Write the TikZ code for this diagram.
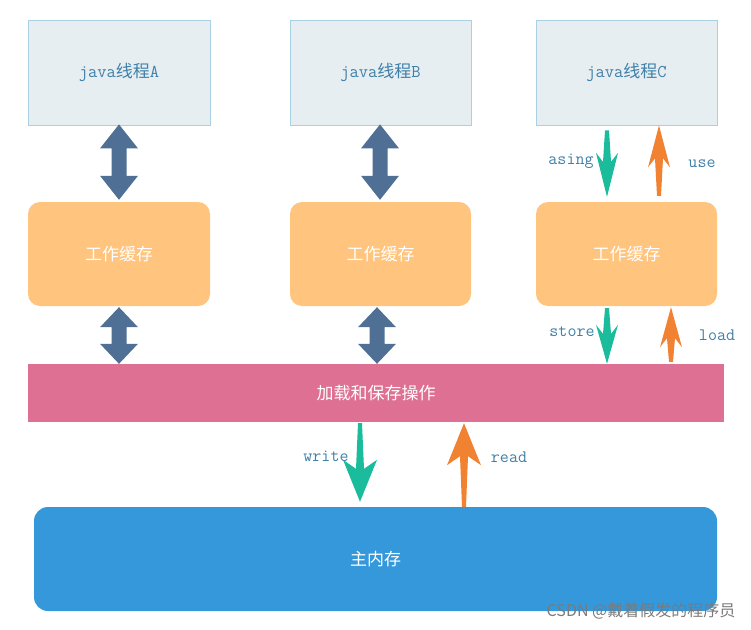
\documentclass[tikz,border=0pt]{standalone}
\usepackage{fontspec}
\newfontfamily\cjk{Noto Sans CJK SC}
\usetikzlibrary{calc}
\newcommand\zh[1]{{\fontsize{17}{20}\selectfont\cjk #1}}
\definecolor{thfill}{HTML}{E6EEF2}
\definecolor{thdraw}{HTML}{A9D0E3}
\definecolor{thtext}{HTML}{3F80A8}
\definecolor{cachec}{HTML}{FFC47D}
\definecolor{barc}{HTML}{DE7094}
\definecolor{memc}{HTML}{3598DB}
\definecolor{dblc}{HTML}{4F6F95}
\definecolor{greenc}{HTML}{1ABC9C}
\definecolor{orangec}{HTML}{F08232}
\definecolor{wmc}{HTML}{7A7A7A}
\tikzset{
  thread/.style={draw=thdraw, line width=0.8pt, fill=thfill, minimum width=182pt, minimum height=105pt, inner sep=0pt, text=thtext, font=\fontsize{18}{20}\selectfont\ttfamily},
  cache/.style={fill=cachec, rounded corners=12pt, minimum width=182pt, minimum height=104pt, inner sep=0pt, text=white, font=\fontsize{17}{20}\selectfont\cjk},
  lbl/.style={text=thtext, font=\fontsize{17.5}{20}\selectfont\ttfamily, inner sep=0pt}
}
% double arrow: #1 top point, #2 bottom point, #3 head length
\newcommand\dblarrow[3]{%
  \fill[dblc] (#1) -- ($(#1)+(19,#3)$) -- ($(#1)+(7.5,#3)$) -- ($(#2)+(7.5,-#3)$) -- ($(#2)+(19,-#3)$) -- (#2)
    -- ($(#2)+(-19,-#3)$) -- ($(#2)+(-7.5,-#3)$) -- ($(#1)+(-7.5,#3)$) -- ($(#1)+(-19,#3)$) -- cycle;}
% barbed arrow: #1 colour, #2 tail, #3 tip, #4 half width, #5 head length, #6 sign (1 = down)
\newcommand\barb[6]{%
  \fill[#1] ($(#2)+(-2,0)$) -- ($(#3)+({-4},{(#6)*(9-#5)})$) -- ($(#3)+({-#4},{(#6)*(0-#5)})$) -- (#3)
    -- ($(#3)+({#4},{(#6)*(0-#5)})$) -- ($(#3)+({4},{(#6)*(9-#5)})$) -- ($(#2)+(2,0)$) -- cycle;}
\begin{document}
\begin{tikzpicture}[x=1pt,y=-1pt]
\useasboundingbox (0,0) rectangle (751,629);
% threads
\node[thread] (ta) at (119,72.5) {java\zh{线程}A};
\node[thread, minimum width=181pt] (tb) at (380.5,72.5) {java\zh{线程}B};
\node[thread, minimum width=181pt] (tc) at (626.5,72.5) {java\zh{线程}C};
% caches
\node[cache] (ca) at (119,254) {工作缓存};
\node[cache, minimum width=181pt] (cb) at (380.5,254) {工作缓存};
\node[cache, minimum width=181pt] (cc) at (626.5,254) {工作缓存};
% bar
\node[fill=barc, minimum width=696pt, minimum height=58pt, inner sep=0pt, text=white, font=\fontsize{17}{20}\selectfont\cjk] (bar) at (376,393) {加载和保存操作};
% main memory
\node[fill=memc, rounded corners=14pt, minimum width=683pt, minimum height=104pt, inner sep=0pt, text=white, font=\fontsize{17}{20}\selectfont\cjk] (mem) at (375.5,559) {主内存};
% double arrows
\coordinate (a1t) at ($(ta.south)+(0,-1)$);
\coordinate (a1b) at ($(ca.north)+(0,-2)$);
\dblarrow{a1t}{a1b}{24}
\coordinate (b1t) at ($(tb.south)+(-0.5,-1)$);
\coordinate (b1b) at ($(cb.north)+(-0.5,-2)$);
\dblarrow{b1t}{b1b}{24}
\coordinate (a2t) at ($(ca.south)+(0,1)$);
\coordinate (a2b) at ($(bar.north -| ca.south)$);
\dblarrow{a2t}{a2b}{20}
\coordinate (b2t) at ($(cb.south)+(-3.5,1)$);
\coordinate (b2b) at ($(bar.north -| b2t)$);
\dblarrow{b2t}{b2b}{20}
% thread C arrows
\coordinate (g1s) at ($(tc.south)+(-19.5,5)$);
\coordinate (g1e) at ($(cc.north)+(-19.5,-5)$);
\barb{greenc}{g1s}{g1e}{11}{44}{1}
\coordinate (o1s) at ($(cc.north)+(32.5,-6)$);
\coordinate (o1e) at ($(tc.south)+(32.5,0)$);
\barb{orangec}{o1s}{o1e}{11}{42}{-1}
\coordinate (g2s) at ($(cc.south)+(-19.5,2)$);
\coordinate (g2e) at ($(bar.north -| g2s)$);
\barb{greenc}{g2s}{g2e}{11}{39}{1}
\coordinate (o2s) at ($(bar.north)+(295,-2)$);
\coordinate (o2e) at ($(cc.south)+(44.5,1)$);
\barb{orangec}{o2s}{o2e}{11}{40}{-1}
% write / read
\coordinate (ws) at ($(bar.south)+(-16,1)$);
\coordinate (we) at ($(mem.north)+(-15.5,-5)$);
\barb{greenc}{ws}{we}{17}{42}{1}
\coordinate (rs) at ($(mem.north)+(88.5,0)$);
\coordinate (re) at ($(bar.south)+(88,1)$);
\barb{orangec}{rs}{re}{17}{42}{-1}
% labels
\node[lbl] (l1) at (571,161) {asing};
\node[lbl] (l2) at (702,164) {use};
\node[lbl] (l3) at (572,332) {store};
\node[lbl] (l4) at (717,335) {load};
\node[lbl] (l5) at (326,456) {write};
\node[lbl] (l6) at (509,457) {read};
% watermark
\node[text=wmc, font=\fontsize{16}{18}\selectfont\cjk, inner sep=0pt] (wm) at (641,611) {CSDN @戴着假发的程序员};
\end{tikzpicture}
\end{document}
